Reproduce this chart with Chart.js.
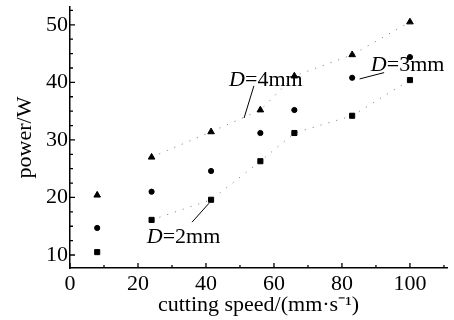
<!DOCTYPE html>
<html>
<head>
<meta charset="utf-8">
<script src="https://cdn.jsdelivr.net/npm/chart.js@4.4.0/dist/chart.umd.min.js"></script>
<style>
  html, body { margin: 0; padding: 0; background: #fff; }
  #box { width: 454px; height: 320px; }
</style>
</head>
<body>
<div id="box"><canvas id="myChart"></canvas></div>
<script>
'use strict';

// values
let speeds = [8, 24, 41.5, 56, 66, 83, 100];
let powerD2 = [10.5, 16.1, 19.6, 26.3, 31.2, 34.2, 40.4];
let powerD3 = [14.7, 21.0, 24.6, 31.2, 35.2, 40.8, 44.4];
let powerD4 = [20.4, 27.0, 31.4, 35.2, 41.1, 44.8, 50.5];
let seriesNames = ['D=2mm', 'D=3mm', 'D=4mm'];
let xTickLabels = [0, 20, 40, 60, 80, 100];
let yTickLabels = [10, 20, 30, 40, 50];

let fontName = '"Liberation Serif", "Times New Roman", serif';

// label text spots and leader lines, in data units
let notes = [
    { name: seriesNames[2], at: [46.8, 40.4], from: [54.1, 39.4], to: [51.2, 33.8] },
    { name: seriesNames[1], at: [88.5, 43.0], from: [92.4, 41.7], to: [85.2, 40.6] },
    { name: seriesNames[0], at: [22.6, 13.1], from: [35.9, 15.7], to: [40.9, 19.0] }
];

function makeSet(name, values, shape, radius, lineOn) {
    return {
        label: name,
        data: speeds.map((s, i) => ({ x: s, y: values[i] })),
        pointStyle: shape,
        pointRadius: radius,
        pointBackgroundColor: '#000',
        pointBorderColor: '#000',
        pointBorderWidth: 1,
        showLine: lineOn,
        borderColor: '#888',
        borderWidth: 1,
        borderDash: [1.2, 7],
        segment: {
            borderColor: c => c.p0DataIndex === 0 ? 'rgba(0,0,0,0)' : '#888'
        }
    };
}

let innerTicks = {
    id: 'innerTicks',
    afterDraw(chart) {
        let ctx = chart.ctx;
        let xs = chart.scales.x;
        let ys = chart.scales.y;
        ctx.save();
        ctx.strokeStyle = '#000';
        ctx.lineWidth = 1.3;
        ctx.beginPath();
        xs.ticks.forEach(t => {
            let px = xs.getPixelForValue(t.value);
            let len = xTickLabels.includes(t.value) ? 5 : 3;
            ctx.moveTo(px, ys.bottom);
            ctx.lineTo(px, ys.bottom - len);
        });
        ys.ticks.forEach(t => {
            let py = ys.getPixelForValue(t.value);
            let len = yTickLabels.includes(t.value) ? 5 : 3;
            ctx.moveTo(xs.left, py);
            ctx.lineTo(xs.left + len, py);
        });
        ctx.stroke();
        ctx.restore();
    }
};

let noteLabels = {
    id: 'noteLabels',
    afterDatasetsDraw(chart) {
        let ctx = chart.ctx;
        let xs = chart.scales.x;
        let ys = chart.scales.y;
        ctx.save();
        ctx.fillStyle = '#000';
        ctx.strokeStyle = '#000';
        ctx.lineWidth = 1;
        ctx.textBaseline = 'middle';
        notes.forEach(n => {
            ctx.beginPath();
            ctx.moveTo(xs.getPixelForValue(n.from[0]), ys.getPixelForValue(n.from[1]));
            ctx.lineTo(xs.getPixelForValue(n.to[0]), ys.getPixelForValue(n.to[1]));
            ctx.stroke();
            let px = xs.getPixelForValue(n.at[0]);
            let py = ys.getPixelForValue(n.at[1]);
            ctx.font = 'italic 22px ' + fontName;
            ctx.fillText(n.name[0], px, py);
            let w = ctx.measureText(n.name[0]).width;
            ctx.font = '22px ' + fontName;
            ctx.fillText(n.name.slice(1), px + w, py);
        });
        ctx.restore();
    }
};

let ctx = document.getElementById('myChart').getContext('2d');
let myChart = new Chart(ctx, {
    type: 'scatter',
    data: {
        datasets: [
            makeSet(seriesNames[0], powerD2, 'rect', 3.6, true),
            makeSet(seriesNames[1], powerD3, 'circle', 2.6, false),
            makeSet(seriesNames[2], powerD4, 'triangle', 3.8, true)
        ]
    },
    options: {
        responsive: true,
        maintainAspectRatio: false,
        animation: false,
        layout: { padding: { left: 0, right: 7, top: 7, bottom: 0 } },
        plugins: {
            legend: { display: false },
            tooltip: { enabled: false }
        },
        scales: {
            x: {
                type: 'linear',
                min: 0,
                max: 110.9,
                grid: { display: false, drawTicks: false },
                border: { display: true, color: '#000', width: 1.5 },
                ticks: {
                    stepSize: 10,
                    includeBounds: false,
                    autoSkip: false,
                    maxRotation: 0,
                    padding: 3,
                    color: '#000',
                    font: { family: fontName, size: 22 },
                    callback: v => xTickLabels.includes(v) ? String(v) : ''
                },
                title: {
                    display: true,
                    text: 'cutting speed/(mm·s⁻¹)',
                    color: '#000',
                    font: { family: fontName, size: 22 },
                    padding: { top: 0, bottom: 2 }
                },
                afterFit: s => { s.height = 52; s.paddingRight = 0; }
            },
            y: {
                type: 'linear',
                min: 7.74,
                max: 53.1,
                grid: { display: false, drawTicks: false },
                border: { display: true, color: '#000', width: 1.5 },
                ticks: {
                    stepSize: 2.5,
                    includeBounds: false,
                    autoSkip: false,
                    padding: 2,
                    color: '#000',
                    font: { family: fontName, size: 22 },
                    callback: v => yTickLabels.includes(v) ? String(v) : ''
                },
                title: {
                    display: true,
                    text: 'power/W',
                    color: '#000',
                    font: { family: fontName, size: 22 },
                    padding: { top: 12, bottom: 0 }
                },
                afterFit: s => { s.width = 70; s.paddingTop = 0; s.paddingBottom = 0; }
            }
        }
    },
    plugins: [innerTicks, noteLabels]
});
</script>
</body>
</html>
